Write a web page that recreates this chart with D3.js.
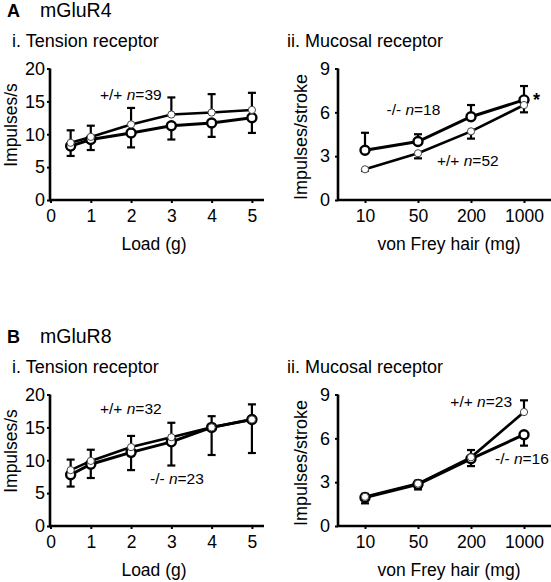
<!DOCTYPE html>
<html>
<head>
<meta charset="utf-8">
<script src="https://cdn.jsdelivr.net/npm/d3@7"></script>
<style>
  html, body { margin: 0; padding: 0; background: #fff; }
  svg { display: block; font-family: "Liberation Sans", Arial, Helvetica, sans-serif; }
</style>
</head>
<body>
<svg id="chart" width="551" height="582"></svg>
<script>
// ---------- data ----------
const loads = [0.5, 1, 2, 3, 4, 5];
const loadTicks = [0, 1, 2, 3, 4, 5];
const tensionTicks = [0, 5, 10, 15, 20];
const hairs = ["10", "50", "200", "1000"];
const mucosalTicks = [0, 3, 6, 9];

// A. mGluR4 – tension receptor
const r4TensionWT = [8.7, 9.6, 11.5, 13.0, 13.3, 13.7];
const r4TensionWTerr = [1.9, 1.7, 2.5, 2.6, 2.8, 2.6];
const r4TensionKO = [8.2, 9.2, 10.2, 11.3, 11.7, 12.5];
const r4TensionKOerr = [1.5, 1.6, 2.2, 2.1, 2.1, 2.3];
// A. mGluR4 – mucosal receptor
const r4MucosalWT = [2.1, 3.2, 4.7, 6.5];
const r4MucosalWTerr = [0.1, 0.35, 0.5, 0.5];
const r4MucosalKO = [3.4, 4.0, 5.7, 6.85];
const r4MucosalKOerr = [1.2, 0.5, 0.8, 0.95];
// B. mGluR8 – tension receptor
const r8TensionWT = [8.5, 9.9, 12.0, 13.5, 15.0, 16.2];
const r8TensionWTerr = [1.6, 1.7, 1.7, 2.2, 1.7, 2.3];
const r8TensionKO = [7.8, 9.4, 11.2, 12.8, 15.0, 16.2];
const r8TensionKOerr = [1.8, 2.1, 2.7, 3.6, 4.2, 5.1];
// B. mGluR8 – mucosal receptor
const r8MucosalWT = [2.0, 2.9, 4.7, 7.8];
const r8MucosalWTerr = [0.2, 0.2, 0.5, 0.8];
const r8MucosalKO = [1.95, 2.85, 4.6, 6.25];
const r8MucosalKOerr = [0.4, 0.35, 0.5, 0.75];

const svg = d3.select("#chart");
const FONT_TICK_Y = 18, FONT_TICK_X = 17.5, FONT_AXIS = 17.5, FONT_ANN = 15.5;

function panel(opts) {
  const g = svg.append("g");
  const dy = opts.dy;
  const y = d3.scaleLinear().domain(opts.yDomain).range([200 + dy, 68.5 + dy]);
  let x;
  if (opts.type === "linear") {
    x = d3.scaleLinear().domain([0, 5.3]).range([opts.x0, opts.x1]);
  } else {
    x = d3.scalePoint().domain(hairs).range([opts.x0, opts.x1]);
  }
  const yAxisX = opts.yAxisX;

  // y axis
  const ya = g.append("g").attr("transform", `translate(${yAxisX},0)`)
    .call(d3.axisLeft(y).tickValues(opts.yTicks).tickSize(3).tickSizeOuter(0).tickPadding(opts.yPad));
  ya.select(".domain").remove();
  ya.selectAll(".tick line").attr("stroke", "#000").attr("stroke-width", 2);
  ya.selectAll(".tick text").attr("font-size", FONT_TICK_Y).attr("fill", "#000")
    .attr("font-family", "Liberation Sans, Arial, sans-serif");

  // x axis
  const xa = g.append("g").attr("transform", `translate(0,${y(0)})`)
    .call(opts.type === "linear"
      ? d3.axisBottom(x).tickValues(loadTicks).tickFormat(d3.format("d")).tickSize(3).tickSizeOuter(0).tickPadding(7)
      : d3.axisBottom(x).tickSize(3).tickSizeOuter(0).tickPadding(7));
  xa.select(".domain").remove();
  xa.selectAll(".tick line").attr("stroke", "#000").attr("stroke-width", 2);
  xa.selectAll(".tick text").attr("font-size", FONT_TICK_X).attr("fill", "#000")
    .attr("font-family", "Liberation Sans, Arial, sans-serif");

  // spines
  g.append("path")
    .attr("d", `M${yAxisX},${y(opts.yDomain[1])}V${y(0)}H${opts.xAxisEnd}`)
    .attr("fill", "none").attr("stroke", "#000").attr("stroke-width", 2.6)
    .attr("stroke-linejoin", "miter");

  // error bars
  function errbars(vals, errs, dir, w) {
    const cap = 4;
    vals.forEach((v, i) => {
      if (errs[i] <= 0) return;
      const xv = x(opts.xs[i]);
      const y1 = y(v), y2 = y(v + dir * errs[i]);
      g.append("line").attr("x1", xv).attr("x2", xv).attr("y1", y1).attr("y2", y2)
        .attr("stroke", "#000").attr("stroke-width", w);
      g.append("line").attr("x1", xv - cap).attr("x2", xv + cap).attr("y1", y2).attr("y2", y2)
        .attr("stroke", "#000").attr("stroke-width", w);
    });
  }
  errbars(opts.wt, opts.wtErr, opts.wtDir, 2.2);
  errbars(opts.ko, opts.koErr, opts.koDir, 2.2);

  const line = d3.line().x((d, i) => x(opts.xs[i])).y(d => y(d));
  g.append("path").datum(opts.wt).attr("d", line).attr("fill", "none")
    .attr("stroke", "#000").attr("stroke-width", 2.6);
  g.append("path").datum(opts.ko).attr("d", line).attr("fill", "none")
    .attr("stroke", "#000").attr("stroke-width", 3);

  // markers
  g.selectAll(null).data(opts.ko).enter().append("circle")
    .attr("cx", (d, i) => x(opts.xs[i])).attr("cy", d => y(d)).attr("r", 4.5)
    .attr("fill", "#fff").attr("stroke", "#000").attr("stroke-width", 2.4);
  g.selectAll(null).data(opts.wt).enter().append("circle")
    .attr("cx", (d, i) => x(opts.xs[i])).attr("cy", d => y(d)).attr("r", 3.6)
    .attr("fill", "#fff").attr("stroke", "#444").attr("stroke-width", 1);

  // axis titles
  g.append("text").attr("x", opts.xTitleX).attr("y", y(0) + 50)
    .attr("text-anchor", "middle").attr("font-size", FONT_AXIS).text(opts.xTitle);
  g.append("text")
    .attr("transform", `translate(${opts.yTitleX},${opts.yTitleY + dy}) rotate(-90)`)
    .attr("text-anchor", "middle").attr("font-size", opts.yTitleSize).text(opts.yTitle);

  // annotations
  opts.ann.forEach(a => {
    const t = g.append("text").attr("x", a.x).attr("y", a.y + dy)
      .attr("font-size", FONT_ANN).attr("text-anchor", a.anchor || "start");
    t.append("tspan").text(a.geno + " ");
    t.append("tspan").attr("font-style", "italic").text("n");
    t.append("tspan").text("=" + a.n);
  });
  return { g, x, y };
}

function header(letter, name, dy) {
  svg.append("text").attr("x", 7).attr("y", 16.7 + dy).attr("font-size", 18)
    .attr("font-weight", "bold").text(letter);
  svg.append("text").attr("x", 40).attr("y", 16.7 + dy).attr("font-size", 19.5).text(name);
  svg.append("text").attr("x", 12).attr("y", 46.5 + dy).attr("font-size", 18).text("i. Tension receptor");
  svg.append("text").attr("x", 287).attr("y", 46.5 + dy).attr("font-size", 18).text("ii. Mucosal receptor");
}

header("A", "mGluR4", 0);
header("B", "mGluR8", 326);

const tensionBase = {
  type: "linear", x0: 50.5, x1: 264, xAxisEnd: 264, yAxisX: 50, yPad: 2,
  yDomain: [0, 20], yTicks: tensionTicks, xs: loads,
  xTitle: "Load (g)", xTitleX: 154, yTitle: "Impulses/s", yTitleSize: 17.5, yTitleX: 17, yTitleY: 125,
  wtDir: 1, koDir: -1
};
const mucosalBase = {
  type: "point", x0: 365, x1: 524, xAxisEnd: 551, yAxisX: 338, yPad: 5,
  yDomain: [0, 9], yTicks: mucosalTicks, xs: hairs,
  xTitle: "von Frey hair (mg)", xTitleX: 449, yTitle: "Impulses/stroke", yTitleSize: 18, yTitleX: 307, yTitleY: 137
};

panel(Object.assign({}, tensionBase, {
  dy: 0, wt: r4TensionWT, wtErr: r4TensionWTerr, ko: r4TensionKO, koErr: r4TensionKOerr,
  ann: [{ x: 100, y: 99.5, geno: "+/+", n: 39 }]
}));

const a2 = panel(Object.assign({}, mucosalBase, {
  dy: 0, wt: r4MucosalWT, wtErr: r4MucosalWTerr, wtDir: -1,
  ko: r4MucosalKO, koErr: r4MucosalKOerr, koDir: 1,
  ann: [{ x: 386.5, y: 114.5, geno: "-/-", n: 18 }, { x: 437, y: 165.5, geno: "+/+", n: 52 }]
}));
a2.g.append("text").attr("x", 533).attr("y", 106).attr("font-size", 18).attr("font-weight", "bold").text("*");

panel(Object.assign({}, tensionBase, {
  dy: 326, wt: r8TensionWT, wtErr: r8TensionWTerr, ko: r8TensionKO, koErr: r8TensionKOerr,
  ann: [{ x: 100, y: 87.5, geno: "+/+", n: 32 }, { x: 150, y: 158, geno: "-/-", n: 23 }]
}));

panel(Object.assign({}, mucosalBase, {
  dy: 326, wt: r8MucosalWT, wtErr: r8MucosalWTerr, wtDir: 1,
  ko: r8MucosalKO, koErr: r8MucosalKOerr, koDir: -1,
  ann: [{ x: 512, y: 81, geno: "+/+", n: 23, anchor: "end" }, { x: 495, y: 137.5, geno: "-/-", n: 16 }]
}));
</script>
</body>
</html>
